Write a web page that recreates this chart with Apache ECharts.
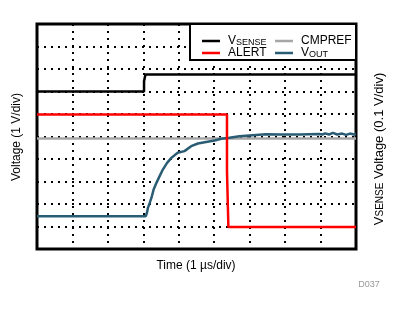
<!DOCTYPE html>
<html>
<head>
<meta charset="utf-8">
<script src="https://cdn.jsdelivr.net/npm/echarts@6/dist/echarts.min.js"></script>
<style>html,body{margin:0;padding:0;background:#fff}#c{width:397px;height:312px}</style>
</head>
<body>
<div id="c"></div>
<script>
// Time in divisions (1 µs/div), voltage in divisions
const xTicks = [0, 9];
const yTicks = [0, 10];

const vsenseX = [0, 3.02, 3.02, 3.06, 3.06, 9];
const vsenseY = [7.0, 7.0, 7.46, 7.46, 7.76, 7.76];

const alertX = [0, 5.36, 5.36, 5.40, 5.40, 9];
const alertY = [5.98, 5.98, 3.46, 3.46, 0.98, 0.98];

const cmprefX = [0, 9];
const cmprefY = [4.91, 4.91];

const voutX = [0, 3.07, 3.10, 3.13, 3.18, 3.23, 3.29, 3.37, 3.46, 3.55, 3.67, 3.79, 3.97, 4.16, 4.35, 4.54, 4.77, 5.01, 5.20, 5.43, 5.71, 6.08, 6.46, 6.84, 7.40, 7.96, 8.05, 8.13, 8.24, 8.35, 8.47, 8.61, 8.72, 8.83, 8.94, 9];
const voutY = [1.46, 1.46, 1.60, 1.83, 2.05, 2.28, 2.64, 2.94, 3.24, 3.53, 3.83, 4.05, 4.28, 4.35, 4.57, 4.69, 4.76, 4.82, 4.90, 4.94, 5.01, 5.06, 5.10, 5.09, 5.09, 5.11, 5.09, 5.14, 5.09, 5.16, 5.09, 5.13, 5.07, 5.13, 5.09, 5.11];

const pairs = (xs, ys) => xs.map((x, i) => [x, ys[i]]);

const FONT = 'Liberation Sans';
const rich = {
  v: { fontSize: 12, fontFamily: FONT, color: '#000' },
  s: { fontSize: 9, fontFamily: FONT, color: '#000', verticalAlign: 'bottom', padding: [3, 0, 0, 0] },
  t: { fontSize: 12, fontFamily: FONT, color: '#000' }
};
const richR = {
  v: { fontSize: 13, fontFamily: FONT, color: '#000' },
  s: { fontSize: 10, fontFamily: FONT, color: '#000', verticalAlign: 'bottom', padding: [3, 0, 0, 0] },
  t: { fontSize: 13, fontFamily: FONT, color: '#000' }
};
const names = { VSENSE: '{v|V}{s|SENSE}', VOUT: '{v|V}{s|OUT}', ALERT: '{t|ALERT}', CMPREF: '{t|CMPREF}' };

const chart = echarts.init(document.getElementById('c'), null, { renderer: 'canvas' });
const legendBase = {
  orient: 'vertical', top: 30, itemWidth: 18, itemHeight: 2.5, itemGap: 0, icon: 'rect',
  formatter: n => names[n], textStyle: { rich: rich, padding: [0, 0, 0, 3] },
  selectedMode: false, z: 10
};
chart.setOption({
  animation: false,
  backgroundColor: '#fff',
  grid: { left: 37, top: 24, width: 319, height: 225, show: true, borderColor: '#000', borderWidth: 3, backgroundColor: 'transparent' },
  xAxis: {
    type: 'value', min: xTicks[0], max: xTicks[1], interval: 1,
    axisLine: { show: false }, axisTick: { show: false }, axisLabel: { show: false },
    splitLine: { show: true, lineStyle: { color: '#000', width: 2, type: [2, 5] } }
  },
  yAxis: {
    type: 'value', min: yTicks[0], max: yTicks[1], interval: 1,
    axisLine: { show: false }, axisTick: { show: false }, axisLabel: { show: false },
    splitLine: { show: true, lineStyle: { color: '#000', width: 2, type: [2, 5] } }
  },
  legend: [
    Object.assign({}, legendBase, { left: 197, data: ['VSENSE', 'ALERT'] }),
    Object.assign({}, legendBase, { left: 270, data: ['CMPREF', 'VOUT'] })
  ],
  graphic: [
    { type: 'rect', z: 5, shape: { x: 190, y: 24, width: 166, height: 36 }, style: { fill: '#fff', stroke: '#000', lineWidth: 2 } },
    { type: 'text', x: 17, y: 137, rotation: Math.PI / 2, style: { text: 'Voltage (1 V/div)', font: '12px "Liberation Sans"', fill: '#000', align: 'center', verticalAlign: 'middle' } },
    { type: 'text', x: 196, y: 266, style: { text: 'Time (1 µs/div)', font: '12px "Liberation Sans"', fill: '#000', align: 'center', verticalAlign: 'middle' } },
    { type: 'text', x: 379, y: 149, rotation: Math.PI / 2, style: { text: '{v|V}{s|SENSE}{t| Voltage (0.1 V/div)}', rich: richR, align: 'center', verticalAlign: 'middle' } },
    { type: 'text', x: 369, y: 285, style: { text: 'D037', font: '9px "Liberation Sans"', fill: '#999', align: 'center', verticalAlign: 'middle' } }
  ],
  series: [
    { name: 'VSENSE', type: 'line', data: pairs(vsenseX, vsenseY), symbol: 'none', lineStyle: { color: '#000', width: 2.5 }, itemStyle: { color: '#000' }, z: 3 },
    { name: 'CMPREF', type: 'line', data: pairs(cmprefX, cmprefY), symbol: 'none', lineStyle: { color: '#a6a6a6', width: 2.5 }, itemStyle: { color: '#a6a6a6' }, z: 2 },
    { name: 'ALERT', type: 'line', data: pairs(alertX, alertY), symbol: 'none', lineStyle: { color: '#ff0000', width: 2.5 }, itemStyle: { color: '#ff0000' }, z: 4 },
    { name: 'VOUT', type: 'line', data: pairs(voutX, voutY), symbol: 'none', lineStyle: { color: '#2a5d74', width: 2.5 }, itemStyle: { color: '#2a5d74' }, z: 3 }
  ]
});
</script>
</body>
</html>
